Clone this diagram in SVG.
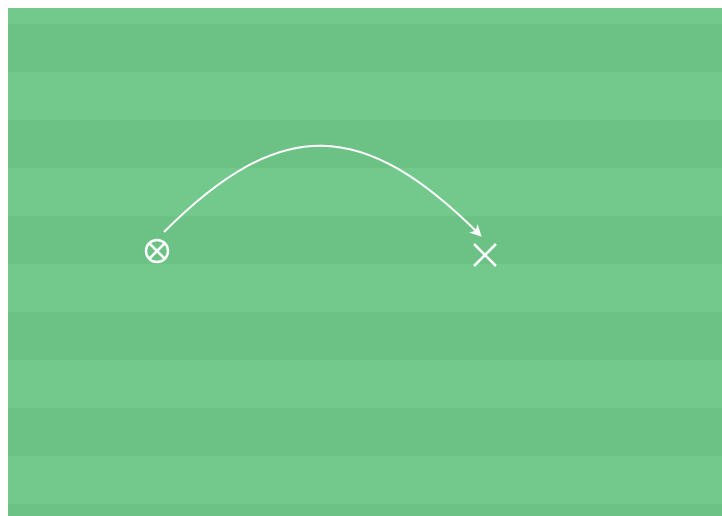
<svg xmlns="http://www.w3.org/2000/svg" width="722" height="516" viewBox="0 0 722 516">
  <defs>
    <pattern id="stripes" x="0" y="24" width="722" height="96" patternUnits="userSpaceOnUse">
      <rect x="0" y="0" width="722" height="48" fill="#6cc285"/>
      <rect x="0" y="48" width="722" height="48" fill="#72c98b"/>
    </pattern>
    <marker id="arrow" viewBox="0 0 10 10" refX="8" refY="5" markerWidth="6" markerHeight="6" orient="auto" markerUnits="strokeWidth">
      <path d="M0,0 L10,5 L0,10 L3,5 Z" fill="#ffffff"/>
    </marker>
    <style>
      .mark { fill: none; stroke: #ffffff; stroke-width: 2.5; stroke-linecap: butt; }
      .conn { fill: none; stroke: #ffffff; stroke-width: 2; }
    </style>
  </defs>
  <rect x="0" y="0" width="722" height="516" fill="#ffffff"/>
  <rect x="8" y="8" width="714" height="508" fill="url(#stripes)"/>
  <g id="connectors">
    <path class="conn" d="M164,232 C281,115 363,118 480,235" marker-end="url(#arrow)"/>
  </g>
  <g id="start">
    <circle class="mark" cx="157" cy="251" r="11"/>
    <path class="mark" d="M149.5,243.5 L164.5,258.5 M164.5,243.5 L149.5,258.5"/>
  </g>
  <g id="end">
    <path class="mark" d="M474,244 L496,266 M496,244 L474,266"/>
  </g>
</svg>
